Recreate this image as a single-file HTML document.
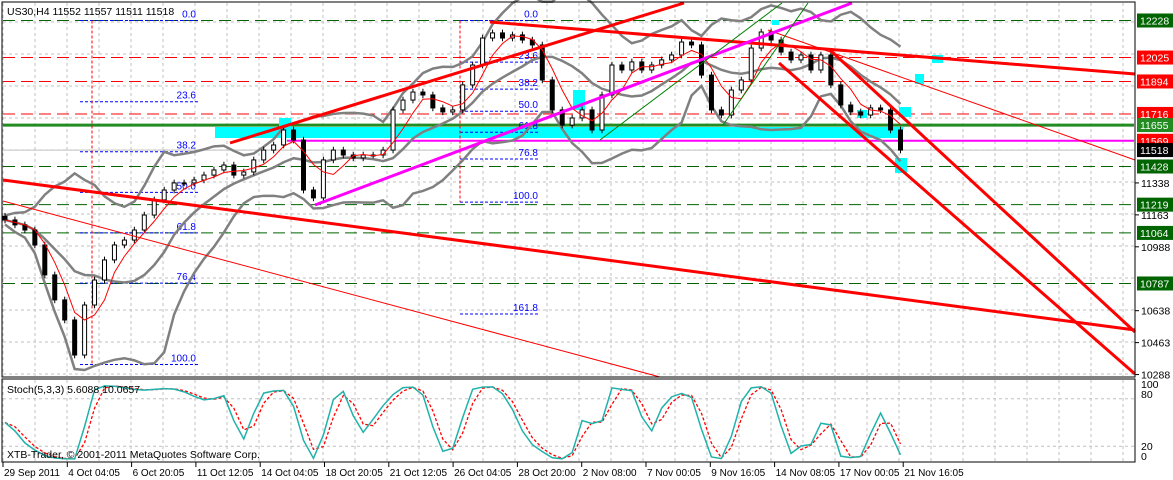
<!DOCTYPE html>
<html><head><meta charset="utf-8"><style>
html,body{margin:0;padding:0;background:#fff;}
svg{display:block;font-family:"Liberation Sans",sans-serif;}
</style></head><body>
<svg id="chart" width="1173" height="480" viewBox="0 0 1173 480" xmlns="http://www.w3.org/2000/svg">
<rect x="0" y="0" width="1173" height="480" fill="#fff"/>
<g id="grid"></g>
<g id="levels"></g>
<g id="zones"></g>
<g id="fibs"></g>
<g id="bands"></g>
<g id="candles"></g>
<g id="trend"></g>
<g id="stoch"></g>
<g id="axis"></g>
<g id="xaxis"></g>
<rect x="2" y="2" width="1133" height="375" fill="none" stroke="#000" stroke-width="1"/>
<rect x="2" y="379" width="1133" height="83" fill="none" stroke="#000" stroke-width="1"/>
<text x="7" y="15" font-size="10.5" fill="#000">US30,H4  11552 11557 11511 11518</text>
<text x="7" y="393" font-size="10.5" fill="#000">Stoch(5,3,3) 5.6088 10.0657</text>
<text x="7" y="458" font-size="10.5" fill="#000">XTB-Trader, © 2001-2011 MetaQuotes Software Corp.</text>
</svg>
<script>
const closes = [11135,11108,11080,10998,10834,10697,10587,10395,10669,10806,10916,10998,11025,11080,11162,11245,11299,11338,11338,11354,11381,11409,11436,11381,11398,11464,11518,11546,11628,11573,11299,11256,11464,11518,11491,11475,11491,11491,11518,11738,11792,11836,11820,11749,11727,11738,11875,11984,12132,12160,12132,12149,12121,12094,11902,11738,11655,11694,11738,11628,11820,11984,11957,12001,11957,11984,12012,12039,12110,12094,11929,11738,11710,11847,11902,12077,12165,12121,12055,12012,12039,11957,12039,11875,11765,11727,11710,11749,11738,11628,11518];
const levelPrices = [12228,12025,11894,11716,11428,11219,11064,10787];
const levelKinds = ['g','r','r','r','g','g','g','g'];
const tickPrices = [11338,11163,10988,10638,10463,10288];
const dateLabels = ['29 Sep 2011','4 Oct 04:05','6 Oct 20:05','11 Oct 12:05','14 Oct 04:05','18 Oct 20:05','21 Oct 12:05','26 Oct 04:05','28 Oct 20:00','2 Nov 08:00','7 Nov 00:05','9 Nov 16:05','14 Nov 08:05','17 Nov 00:05','21 Nov 16:05'];
const fib1Levels = ['0.0','23.6','38.2','50.0','61.8','76.4','100.0'];
const fib1Prices = [12228,11783,11509,11286,11064,10789,10343];
const fib2Levels = ['0.0','23.6','38.2','50.0','61.8','76.8','100.0','161.8'];
const fib2Prices = [12228,12000,11852,11731,11616,11469,11233,10620];

const NS='http://www.w3.org/2000/svg';
const Y=p=>20.5+(12228-p)*0.1825;
const X=i=>5+i*9.95;
const SY=v=>462-v*0.79;
function el(tag,attrs,parent){const e=document.createElementNS(NS,tag);for(const k in attrs)e.setAttribute(k,attrs[k]);parent.appendChild(e);return e;}
const g=id=>document.getElementById(id);

const grid=g('grid');
for(let x=3;x<1135;x+=32){
 const l=el('line',{x1:x,y1:3,x2:x,y2:376,stroke:'#c0c0c0','stroke-dasharray':'3,3'},grid);
 
 const l2=el('line',{x1:x,y1:380,x2:x,y2:461,stroke:'#c0c0c0','stroke-dasharray':'3,3'},grid);
 
}
for(let y=22;y<376;y+=32){
 const l=el('line',{x1:3,y1:y,x2:1134,y2:y,stroke:'#c0c0c0','stroke-dasharray':'3,3'},grid);
 
}
[80,20].forEach(v=>{const l=el('line',{x1:3,y1:SY(v),x2:1134,y2:SY(v),stroke:'#c0c0c0','stroke-dasharray':'3,3'},grid);
 });

const zones=g('zones');
[[215,127,688,11],[279,118,12,9],[899,107,12,10],[895,158,12,15],[932,55,11,8],[915,74,9,10],[772,20,7,5],[573,90,12,20],[857,110,10,8]].forEach(r=>{
 const z=el('rect',{x:r[0],y:r[1],width:r[2],height:r[3],fill:'#00ffff'},zones);
 
});

const lv=g('levels');
levelPrices.forEach((p,k)=>{
 const l=el('line',{x1:3,y1:Y(p),x2:1134,y2:Y(p),stroke:levelKinds[k]=='g'?'#006400':'#ff0000','stroke-dasharray':'12,6'},lv);
 
});
let l0=el('line',{x1:3,y1:Y(11518),x2:1134,y2:Y(11518),stroke:'#c0c0c0'},lv);

l0=el('line',{x1:3,y1:Y(11655),x2:1134,y2:Y(11655),stroke:'#228b22','stroke-width':3},lv);

l0=el('line',{x1:287,y1:Y(11569),x2:1134,y2:Y(11569),stroke:'#ff00ff','stroke-width':2},lv);


const fb=g('fibs');
function fib(levels,prices,x1,x2,vx,vEnd,name){
 prices.forEach((p,k)=>{
  const l=el('line',{x1:x1,y1:Y(p),x2:x2,y2:Y(p),stroke:'#0000ff','stroke-dasharray':'3,2'},fb);
  
  const t=el('text',{x:x2-2,y:Y(p)-3,'font-size':10,fill:'#0000ff','text-anchor':'end'},fb);
  t.textContent=levels[k];
  
 });
 const v=el('line',{x1:vx,y1:Y(prices[0]),x2:vx,y2:Y(prices[vEnd]),stroke:'#ff0000','stroke-dasharray':'3,2'},fb);
 
}
fib(fib1Levels,fib1Prices,80,198,92,6,'fib1');
fib(fib2Levels,fib2Prices,460,540,460,6,'fib2');

const cg=g('candles');
const opens=closes.map((c,i)=>i?closes[i-1]:c+20);
closes.forEach((c,i)=>{
 const o=opens[i],hi=Math.max(o,c)+18,lo=Math.min(o,c)-18,x=X(i);
 const w=el('line',{x1:x,y1:Y(hi),x2:x,y2:Y(lo),stroke:'#000'},cg);
 
 const top=Y(Math.max(o,c)),h=Math.max(1,Math.abs(Y(o)-Y(c)));
 const b=el('rect',{x:x-2,y:top,width:4,height:h,fill:c>=o?'#fff':'#000',stroke:'#000','stroke-width':1},cg);
 
});

const bg=g('bands');
const N=10;
const mid=[],up=[],dn=[],ma=[];
closes.forEach((c,i)=>{
 const s=closes.slice(Math.max(0,i-N+1),i+1);
 const m=s.reduce((a,b)=>a+b,0)/s.length;
 const sd=Math.sqrt(s.reduce((a,b)=>a+(b-m)*(b-m),0)/s.length);
 mid.push(m);up.push(m+2*sd+25);dn.push(m-2*sd-25);
 const s2=closes.slice(Math.max(0,i-3),i+1);ma.push(s2.reduce((a,b)=>a+b,0)/s2.length);
});
function poly(arr,attrs,name,par){const p=el('polyline',Object.assign({points:arr.map((v,i)=>X(i)+','+Y(v)).join(' '),fill:'none'},attrs),par);}
poly(up,{stroke:'#808080','stroke-width':2.5},'bb-upper',bg);
poly(mid,{stroke:'#808080','stroke-width':2.5},'bb-middle',bg);
poly(dn,{stroke:'#808080','stroke-width':2.5},'bb-lower',bg);
poly(ma,{stroke:'#ff0000','stroke-width':1},'moving-average',cg);

const tg=g('trend');
[[230,143,684,3,'#ff0000',3],[490,22,1135,74,'#ff0000',3],[3,180,1135,330,'#ff0000',3],[3,201,660,377,'#ff0000',1],
 [779,63,1135,374,'#ff0000',3],[830,50,1135,332,'#ff0000',3],[768,30,1135,160,'#ff0000',1],
 [315,205,852,3,'#ff00ff',3],[600,140,782,3,'#008000',1],[723,125,808,3,'#008000',1]].forEach(t=>{
 const l=el('line',{x1:t[0],y1:t[1],x2:t[2],y2:t[3],stroke:t[4],'stroke-width':t[5]},tg);
 
});

const sg=g('stoch');
const rawK=closes.map((c,i)=>{const s=closes.slice(Math.max(0,i-3),i+1);const hi=Math.max(...s)+18,lo=Math.min(...s)-18;return 100*(c-lo)/(hi-lo);});
const K=rawK.map((v,i)=>{const s=rawK.slice(Math.max(0,i-1),i+1);return s.reduce((a,b)=>a+b,0)/s.length;});
const D=K.map((v,i)=>{const s=K.slice(Math.max(0,i-1),i+1);return s.reduce((a,b)=>a+b,0)/s.length;});
function spoly(arr,attrs,name){const p=el('polyline',Object.assign({points:arr.map((v,i)=>X(i)+','+SY(v)).join(' '),fill:'none'},attrs),sg);}
spoly(D,{stroke:'#ff0000','stroke-width':1.3,'stroke-dasharray':'3,2'},'stoch-d-line');
spoly(K,{stroke:'#20b2aa','stroke-width':1.5},'stoch-k-line');

const ax=g('axis');
tickPrices.forEach(p=>{
 const t=el('text',{x:1141,y:Y(p)+4,'font-size':10.5,fill:'#000'},ax);t.textContent=p;
 
 const m=el('line',{x1:1135,y1:Y(p),x2:1139,y2:Y(p),stroke:'#000'},ax);
 
});
const tagPrices=[12228,12025,11894,11716,11655,11569,11518,11428,11219,11064,10787];
const tagColors=['#006400','#ff0000','#ff0000','#ff0000','#228b22','#ff0000','#000','#006400','#006400','#006400','#006400'];
tagPrices.forEach((p,k)=>{
 const r=el('rect',{x:1137,y:Y(p)-7,width:36,height:14,fill:tagColors[k]},ax);
 
 const t=el('text',{x:1140,y:Y(p)+4,'font-size':10.5,fill:'#fff'},ax);t.textContent=p;
 
});
[['100',388],['80',398],['20',450],['0',460]].forEach(s=>{
 const t=el('text',{x:1141,y:s[1],'font-size':10.5,fill:'#000'},ax);t.textContent=s[0];
 
});

const xa=g('xaxis');
dateLabels.forEach((d,k)=>{
 const x=3+k*64.3;
 const m=el('line',{x1:x,y1:462,x2:x,y2:467,stroke:'#000'},xa);
 
 const t=el('text',{x:x+1,y:476,'font-size':10,fill:'#000'},xa);t.textContent=d;
 
});
</script>
</body></html>
